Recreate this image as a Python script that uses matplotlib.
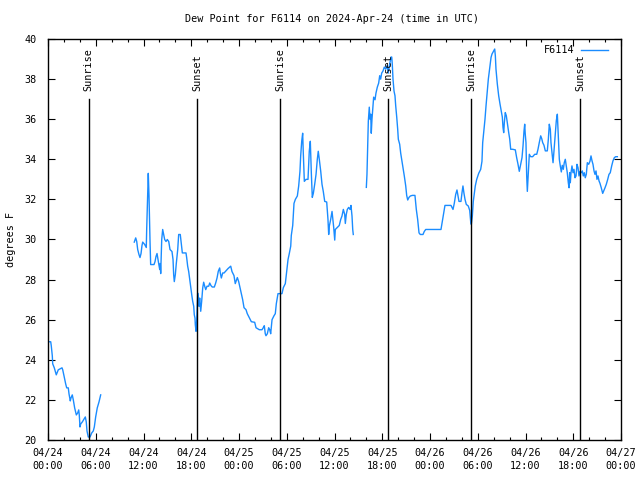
import numpy as np
import matplotlib
matplotlib.use("Agg")
import matplotlib.pyplot as plt
from matplotlib.ticker import MultipleLocator

# ---- data (hours since 2024-04-24 00:00 UTC, dew point in F) ----
seg1_t = [0, 0.34, 0.41, 0.54, 0.59, 0.79, 1.04, 1.29, 1.76, 1.85, 2.01, 2.22, 2.35, 2.55, 2.64,
          2.80, 2.89, 3.05, 3.18, 3.35, 3.56, 3.73, 3.86, 3.93, 4.02, 4.11, 4.31, 4.69, 4.81, 4.90,
          5.06, 5.28, 5.49, 5.69, 5.82, 5.99, 6.19, 6.41, 6.62]
seg1_v = [24.9, 24.9, 24.7, 24.2, 23.8, 23.6, 23.25, 23.5, 23.6, 23.5, 23.2, 22.8, 22.6, 22.6, 22.3,
          21.95, 22.1, 22.25, 22.0, 21.6, 21.25, 21.35, 21.5, 21.25, 20.65, 20.8, 20.9, 21.15, 20.9, 20.45,
          20.15, 20.15, 20.35, 20.45, 20.65, 21.15, 21.6, 21.9, 22.25]

seg2_t = [10.84, 11.02, 11.15, 11.27, 11.43, 11.56, 11.69, 11.81, 11.90, 12.15, 12.35, 12.40, 12.53,
          12.60, 12.69, 12.82, 12.90, 13.32, 13.45, 13.57, 13.70, 13.82, 13.95, 14.04, 14.11, 14.16,
          14.29, 14.41, 14.54, 14.66, 14.83, 14.99, 15.17, 15.33, 15.58, 15.71, 15.79, 15.87, 16.00,
          16.12, 16.30, 16.42, 16.62, 16.75, 16.88, 17.34, 17.43, 17.55, 17.68, 17.81, 17.93, 18.06,
          18.18, 18.31, 18.38, 18.47, 18.51, 18.60, 18.68, 18.81, 18.89, 18.97, 19.06, 19.19, 19.31,
          19.44, 19.56, 19.69, 19.82, 19.98, 20.19, 20.32, 20.48, 20.64, 20.90, 21.07, 21.24, 21.40,
          21.57, 21.65, 21.78, 21.86, 21.95, 22.12, 22.28, 22.62, 22.96, 23.12, 23.37, 23.53, 23.79,
          23.96, 24.13, 24.29, 24.46, 24.63, 24.88, 25.04, 25.29, 25.55, 25.97, 26.14, 26.55, 26.89,
          27.05, 27.18, 27.30, 27.39, 27.56, 27.73, 27.86, 27.98, 28.15, 28.40, 28.56, 28.69, 28.90,
          29.06, 29.40, 29.57, 29.82, 29.99, 30.16, 30.32, 30.50, 30.57, 30.75, 30.91, 31.08, 31.33,
          31.50, 31.66, 31.75, 31.88, 32.00, 32.08, 32.21, 32.42, 32.67, 32.83, 32.96, 33.09, 33.21,
          33.34, 33.51, 33.68, 33.84, 33.96, 34.09, 34.27, 34.43, 34.59, 34.77, 35.02, 35.10, 35.18,
          35.27, 35.35, 35.52, 35.69, 35.77, 35.90, 36.03, 36.10, 36.35, 36.60, 36.78, 36.94, 37.11,
          37.28, 37.36, 37.48, 37.61, 37.78, 37.95, 38.07, 38.20, 38.29, 38.36]
seg2_v = [29.87, 30.08, 29.9, 29.5, 29.25, 29.1, 29.3, 29.7, 29.87, 29.75, 29.6, 30.5, 32.4,
          33.3, 32.2, 29.9, 28.75, 28.75, 28.9, 29.15, 29.3, 29.0, 28.7, 28.5, 28.8, 28.3,
          30.0, 30.5, 30.25, 30.0, 29.9, 30.0, 29.9, 29.5, 29.4, 29.0, 28.25, 27.9, 28.25,
          28.8, 29.5, 30.25, 30.25, 29.8, 29.33, 29.33, 29.08, 28.67, 28.4, 28.0, 27.67, 27.25,
          26.92, 26.67, 26.25, 26.08, 25.75, 25.42, 25.92, 27.33, 27.08, 26.67, 27.08, 26.42, 26.92,
          27.58, 27.87, 27.67, 27.5, 27.67, 27.67, 27.83, 27.7, 27.63, 27.63, 27.83, 28.08, 28.42,
          28.58, 28.33, 28.08, 28.2, 28.33, 28.33, 28.4, 28.55, 28.67, 28.4, 28.2, 27.8, 28.1,
          27.9, 27.6, 27.3, 27.0, 26.6, 26.5, 26.3, 26.1, 25.9, 25.87, 25.6, 25.5, 25.5,
          25.6, 25.7, 25.3, 25.2, 25.3, 25.6, 25.5, 25.3, 26.0, 26.2, 26.3, 26.8, 27.3,
          27.3, 27.3, 27.6, 27.8, 28.4, 29.0, 29.3, 29.67, 30.2, 30.7, 31.8, 32.0, 32.17,
          32.67, 33.4, 34.17, 34.9, 35.3, 34.3, 32.9, 33.0, 33.0, 34.4, 34.9, 33.3, 32.1,
          32.3, 32.75, 33.25, 34.0, 34.4, 34.0, 33.4, 32.75, 32.4, 31.9, 31.87, 31.4, 31.0,
          30.25, 30.67, 31.0, 31.4, 31.1, 30.6, 29.97, 30.5, 30.6, 30.7, 31.0, 31.17, 31.5,
          31.25, 30.8, 31.25, 31.5, 31.6, 31.5, 31.7, 31.17, 30.5, 30.25]

seg3_t = [40.00, 40.08, 40.17, 40.25, 40.37, 40.46, 40.55, 40.62, 40.71, 40.84, 40.92, 41.09, 41.21,
          41.38, 41.55, 41.68, 41.80, 41.93, 42.09, 42.26, 42.43, 42.60, 42.76, 42.89, 43.01, 43.10,
          43.19, 43.26, 43.35, 43.48, 43.60, 43.69, 43.82, 43.94, 44.02, 44.19, 44.32, 44.48, 44.65,
          44.77, 44.95, 45.07, 45.20, 45.36, 45.53, 45.78, 46.11, 46.28, 46.45, 46.62, 46.78, 47.12,
          47.28, 47.46, 49.38, 49.55, 49.72, 49.88, 50.64, 50.89, 51.05, 51.23, 51.39, 51.52, 51.64,
          51.89, 52.02, 52.14, 52.27, 52.40, 52.56, 52.81, 52.99, 53.11, 53.19, 53.32, 53.44, 53.69,
          53.87, 54.12, 54.37, 54.53, 54.62, 54.79, 54.91, 55.04, 55.20, 55.33, 55.54, 55.67, 55.79,
          55.95, 56.13, 56.21, 56.29, 56.46, 56.63, 56.80, 56.96, 57.09, 57.17, 57.26, 57.34, 57.46,
          57.59, 57.71, 57.89, 58.02, 58.14, 58.39, 58.72, 58.89, 59.06, 59.22, 59.40, 59.56, 59.69,
          59.81, 59.90, 59.97, 60.06, 60.15, 60.23, 60.31, 60.48, 60.65, 60.90, 61.16, 61.41, 61.57,
          61.73, 61.91, 62.04, 62.16, 62.32, 62.49, 62.74, 62.87, 62.99, 63.12, 63.20, 63.33, 63.46,
          63.58, 63.75, 63.87, 64.00, 64.12, 64.25, 64.37, 64.50, 64.62, 64.75, 64.87, 65.00, 65.13,
          65.25, 65.38, 65.47, 65.55, 65.63, 65.72, 65.84, 65.97, 66.09, 66.22, 66.35, 66.47, 66.60,
          66.72, 66.85, 67.01, 67.14, 67.26, 67.39, 67.51, 67.64, 67.77, 67.94, 68.10, 68.23, 68.36,
          68.48, 68.61, 68.73, 68.86, 68.98, 69.11, 69.24, 69.36, 69.52, 69.70, 69.83, 69.99, 70.15,
          70.33, 70.49, 70.65, 70.83, 70.99, 71.16, 71.33, 71.54]
seg3_v = [32.6, 33.25, 34.6, 35.9, 36.6, 36.0, 36.25, 35.3, 36.0, 36.67, 37.1, 36.97, 37.3,
          37.6, 37.8, 38.17, 38.0, 38.3, 38.4, 38.6, 38.5, 38.67, 38.3, 38.67, 38.9, 39.1,
          39.1, 38.75, 38.0, 37.4, 37.17, 36.67, 36.1, 35.5, 35.0, 34.75, 34.3, 33.9, 33.5,
          33.17, 32.67, 32.2, 31.97, 32.1, 32.17, 32.2, 32.2, 31.5, 31.0, 30.33, 30.25, 30.25,
          30.4, 30.5, 30.5, 30.9, 31.33, 31.7, 31.7, 31.5, 31.8, 32.25, 32.47, 32.17, 31.9,
          31.9, 32.33, 32.67, 32.3, 32.0, 31.75, 31.67, 31.45, 30.9, 30.75, 31.17, 31.9, 32.67,
          33.0, 33.3, 33.5, 33.9, 34.83, 35.5, 36.0, 36.67, 37.4, 38.0, 38.67, 39.08, 39.25,
          39.37, 39.5, 39.17, 38.5, 37.75, 37.17, 36.75, 36.4, 36.1, 35.6, 35.33, 35.83, 36.33,
          36.17, 35.83, 35.33, 35.0, 34.5, 34.5, 34.47, 34.08, 33.75, 33.4, 33.75, 34.08, 34.67,
          35.4, 35.75, 35.25, 34.83, 33.17, 32.4, 33.0, 34.25, 34.13, 34.13, 34.25, 34.25, 34.5,
          34.83, 35.17, 35.03, 34.83, 34.7, 34.42, 34.42, 35.0, 35.75, 35.5, 34.83, 34.33, 33.83,
          34.42, 35.33, 35.92, 36.25, 35.17, 34.0, 33.67, 33.37, 33.7, 33.5, 33.83, 34.0, 33.67,
          33.33, 32.83, 32.58, 33.33, 32.83, 33.33, 33.67, 33.33, 33.5, 33.08, 33.17, 33.75, 33.58,
          33.17, 33.4, 33.33, 33.42, 33.17, 33.33, 33.08, 33.25, 33.83, 33.75, 33.9, 34.17, 33.92,
          33.75, 33.42, 33.25, 33.42, 33.0, 33.17, 32.92, 32.8, 32.58, 32.3, 32.42, 32.58, 32.75,
          33.0, 33.25, 33.33, 33.67, 33.92, 34.08, 34.13, 34.13]

sun_times = [5.1, 18.72, 29.19, 42.78, 53.19, 66.85]
sun_labels = ["Sunrise", "Sunset", "Sunrise", "Sunset", "Sunrise", "Sunset"]
sun_line_top = 37.0

x_ticks = [0, 6, 12, 18, 24, 30, 36, 42, 48, 54, 60, 66, 72]
x_tick_labels = ["04/24\n00:00", "04/24\n06:00", "04/24\n12:00", "04/24\n18:00",
                 "04/25\n00:00", "04/25\n06:00", "04/25\n12:00", "04/25\n18:00",
                 "04/26\n00:00", "04/26\n06:00", "04/26\n12:00", "04/26\n18:00",
                 "04/27\n00:00"]
y_ticks = [20, 22, 24, 26, 28, 30, 32, 34, 36, 38, 40]

title = "Dew Point for F6114 on 2024-Apr-24 (time in UTC)"
series_name = "F6114"

# ---- plotting ----
FONT = "DejaVu Sans Mono"
FS = 7.3
plt.rcParams['font.family'] = [FONT]
plt.rcParams['font.size'] = FS

fig = plt.figure(figsize=(6.4, 4.8), dpi=100)
ax = fig.add_axes([48/640, 1 - 440/480, (621-48)/640, (440-39)/480])

color = "#1a8cff"
ax.plot(seg1_t, seg1_v, color=color, lw=1.0, label=series_name)
ax.plot(seg2_t, seg2_v, color=color, lw=1.0)
ax.plot(seg3_t, seg3_v, color=color, lw=1.0)

for t, lab in zip(sun_times, sun_labels):
    ax.plot([t, t], [20, sun_line_top], color="black", lw=1.0)
    ax.text(t, sun_line_top + 0.4, lab, rotation=90, ha="center", va="bottom",
            fontsize=FS, color="black")

ax.set_xlim(0, 72)
ax.set_ylim(20, 40)
ax.set_xticks(x_ticks)
ax.set_xticklabels(x_tick_labels, linespacing=1.3)
ax.xaxis.set_minor_locator(MultipleLocator(2))
ax.set_yticks(y_ticks)
ax.tick_params(which="both", direction="in", top=True, right=True, colors="black", width=0.8)
ax.tick_params(which="major", length=5)
ax.tick_params(which="minor", length=2.5)
ax.tick_params(axis="x", pad=6)
ax.tick_params(axis="y", pad=8)
for s in ax.spines.values():
    s.set_linewidth(1.0)

ax.set_ylabel("degrees F", fontsize=FS)
ax.yaxis.set_label_coords(-32/573, 0.5)
fig.text(332/640, 1 - 19/480, title, ha="center", va="center", fontsize=FS)

leg = ax.legend(loc="upper right", frameon=False, handlelength=2.7, handletextpad=0.6,
                borderaxespad=0.2, markerfirst=False, fontsize=FS,
                bbox_to_anchor=(1 - 7/573, 1.0))

fig.savefig("out.png", dpi=100)
